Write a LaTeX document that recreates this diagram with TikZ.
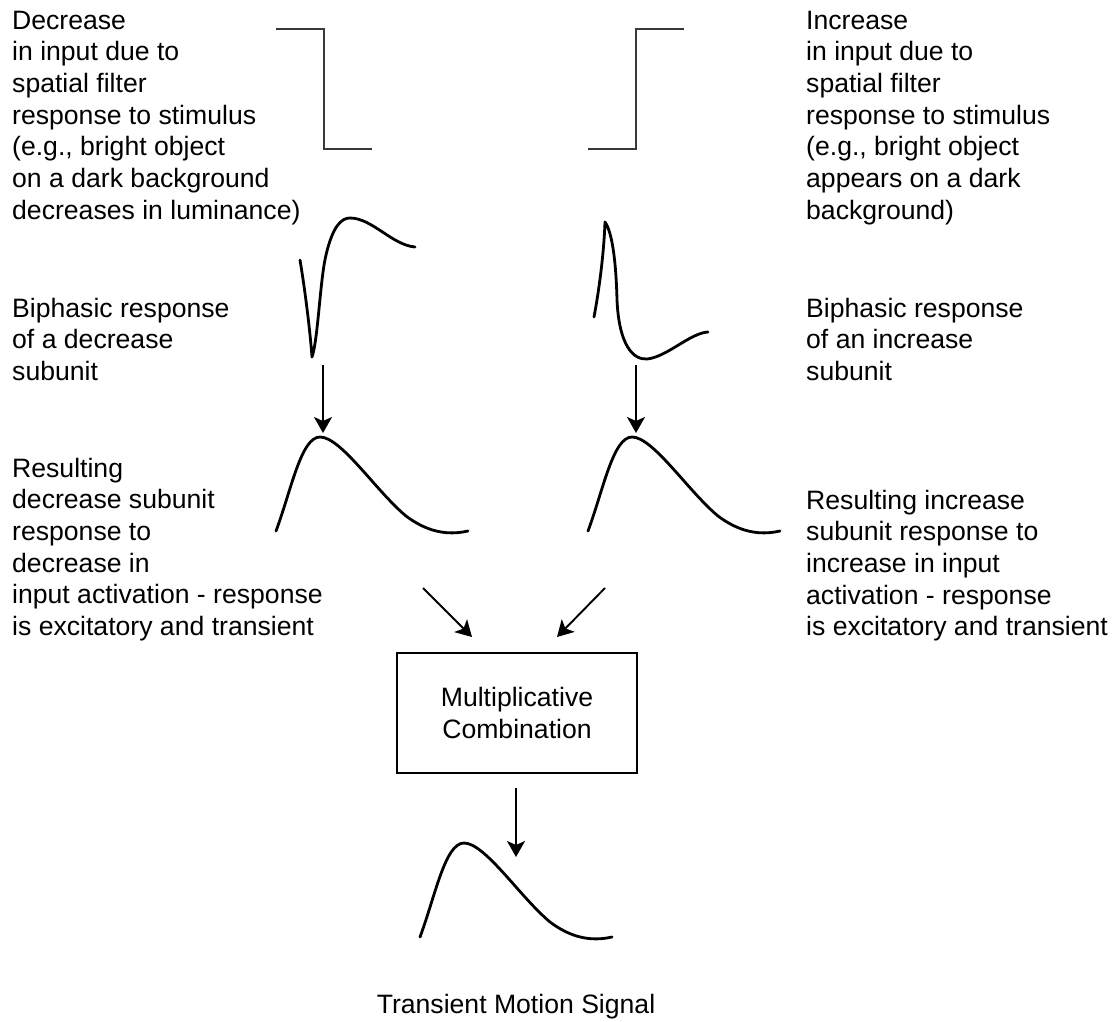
\documentclass[tikz,border=0pt]{standalone}
\usepackage{fontspec}
\setmainfont{Liberation Sans}
\usetikzlibrary{arrows.meta}
\begin{document}
\begin{tikzpicture}[x=1pt,y=-1pt,
  % multi-line labels are placed by the baseline of their last line
  lbl/.style={anchor=base west, align=left, inner sep=0pt,
              font=\fontsize{26.6}{31.7}\selectfont},
  ctr/.style={align=center, inner sep=0pt,
              font=\fontsize{26.6}{31.7}\selectfont},
  stepline/.style={draw=black!78, line width=2.3pt},
  curve/.style={draw=black, line width=2.8pt, line cap=round, line join=round},
  arr/.style={draw=black, line width=1.9pt,
              -{Stealth[length=16pt,width=18pt,inset=4pt]}},
  bell/.pic={\draw[curve] (0,0) .. controls (15,-40) and (25,-94) .. (44,-94)
      .. controls (65,-94) and (100,-40) .. (130,-15)
      .. controls (150,0) and (170,5) .. (192,0);}
]
\useasboundingbox (0,0) rectangle (1119,1021);

% input steps
\draw[stepline] (276,29) -- (324,29) -- (324,149) -- (372,149);
\draw[stepline] (588,149) -- (636,149) -- (636,29) -- (684,29);

% biphasic responses
\draw[curve] (300,260) .. controls (305,290) and (310,330) .. (312,357)
  .. controls (318,340) and (320,280) .. (326,255)
  .. controls (333,225) and (342,218) .. (350,218)
  .. controls (372,218) and (392,245) .. (415,247);
\draw[curve] (594,317) .. controls (600,285) and (604,250) .. (605,222)
  .. controls (612,232) and (616,260) .. (617,300)
  .. controls (619,345) and (633,360) .. (647,359)
  .. controls (667,357) and (690,333) .. (708,332);

% transient responses
\pic at (276,531) {bell};
\pic at (588,531) {bell};
\pic at (420,937) {bell};

% labels
\node[lbl] (decin) at (12,219.2) {Decrease\\in input due to\\spatial filter\\response to stimulus\\(e.g., bright object\\on a dark background\\decreases in luminance)};
\node[lbl] (incin) at (806,219.2) {Increase\\in input due to\\spatial filter\\response to stimulus\\(e.g., bright object\\appears on a dark\\background)};
\node[lbl] (decbi) at (12,380.4) {Biphasic response\\of a decrease\\subunit};
\node[lbl] (incbi) at (806,380.4) {Biphasic response\\of an increase\\subunit};
\node[lbl] (decres) at (12,635.5) {Resulting\\decrease subunit\\response to\\decrease in\\input activation - response\\is excitatory and transient};
\node[lbl] (incres) at (806,635.8) {Resulting increase\\subunit response to\\increase in input\\activation - response\\is excitatory and transient};

\node[draw=black, line width=1.9pt, minimum width=240pt, minimum height=120pt] (comb) at (517,713) {};
\node[ctr] (combtxt) at (517,713) {Multiplicative\\Combination};
\node[ctr, anchor=base] (out) at (516,1013) {Transient Motion Signal};

% connectors
\coordinate (ls) at (323,365); \coordinate (le) at (323,433);
\coordinate (rs) at (636,365); \coordinate (re) at (636,433);
\coordinate (dl1) at (423,588); \coordinate (dl2) at (472,637);
\coordinate (dr1) at (605,588); \coordinate (dr2) at (557,637);
\coordinate (os) at (516,788); \coordinate (oe) at (516,857);
\draw[arr] (ls) -- (le);
\draw[arr] (rs) -- (re);
\draw[arr] (dl1) -- (dl2);
\draw[arr] (dr1) -- (dr2);
\draw[arr] (os) -- (oe);
\end{tikzpicture}
\end{document}
